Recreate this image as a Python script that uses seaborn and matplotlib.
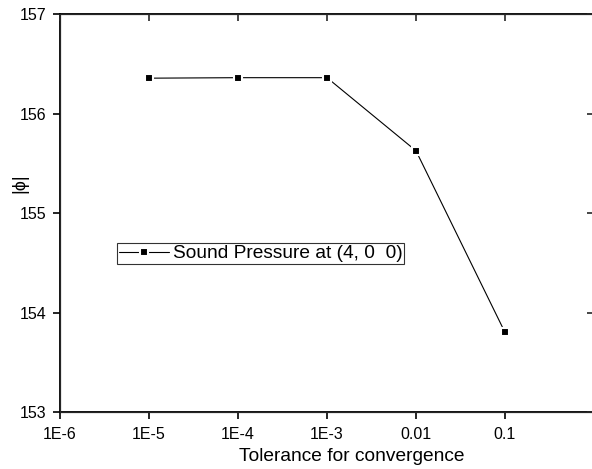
import matplotlib
matplotlib.use("Agg")
import matplotlib.pyplot as plt
import seaborn as sns
import pandas as pd

tolerance = [1e-5, 1e-4, 1e-3, 1e-2, 1e-1]
pressure = [156.355, 156.36, 156.36, 155.625, 153.80]
tick_vals = [1e-6, 1e-5, 1e-4, 1e-3, 1e-2, 1e-1]
tick_labels = ["1E-6", "1E-5", "1E-4", "1E-3", "0.01", "0.1"]
y_ticks = [153, 154, 155, 156, 157]
series_name = "Sound Pressure at (4, 0  0)"

sns.set_style("ticks")
plt.rcParams['font.family'] = ['Liberation Sans', 'DejaVu Sans']
plt.rcParams['text.color'] = 'black'
plt.rcParams['axes.labelcolor'] = 'black'

df = pd.DataFrame({"tol": tolerance, "p": pressure, "s": series_name})

W, H = 592, 469
fig = plt.figure(figsize=(W / 100, H / 100), dpi=100)
left, right, top, bottom = 60, 594, 14, 412
ax = fig.add_axes([left / W, (H - bottom) / H, (right - left) / W, (bottom - top) / H])

sns.lineplot(data=df, x="tol", y="p", hue="s", palette=["black"], marker="s",
             markersize=5.5, linewidth=0.8, ax=ax, markeredgewidth=1.5,
             markeredgecolor="white")
ax.set_xscale("log")
ax.set_xlim(1e-6, 1)
ax.set_ylim(153, 157)
ax.set_xticks(tick_vals)
ax.set_xticklabels(tick_labels)
ax.set_yticks(y_ticks)
ax.minorticks_off()
ax.tick_params(axis="both", direction="out", length=5, width=1.2, labelsize=11.5,
               colors="black")
ax.tick_params(axis="x", pad=6)
ax.tick_params(axis="y", pad=5)
for s in ax.spines.values():
    s.set_linewidth(1.3)
    s.set_color("black")

# inward ticks on top and right
axt = ax.twiny()
axt.set_xscale("log")
axt.set_xlim(ax.get_xlim())
axt.set_xticks(tick_vals)
axt.minorticks_off()
axt.tick_params(axis="x", direction="in", length=5, width=1.2, labeltop=False)
axr = ax.twinx()
axr.set_ylim(ax.get_ylim())
axr.set_yticks(y_ticks)
axr.tick_params(axis="y", direction="in", length=5, width=1.2, labelright=False)

ax.set_xlabel("Tolerance for convergence", fontsize=13.8)
ax.xaxis.set_label_coords((352 - left) / (right - left), -(456 - bottom) / (bottom - top), transform=ax.transAxes)
ax.xaxis.label.set_va("center")
ax.set_ylabel("|ϕ|", fontsize=13)
ax.yaxis.set_label_coords(-(left - 20) / (right - left), (bottom - 183) / (bottom - top), transform=ax.transAxes)
ax.yaxis.label.set_va("center")

leg = ax.legend(loc="upper left", bbox_to_anchor=((117 - left) / (right - left), (bottom - 243) / (bottom - top)),
                frameon=True, fancybox=False, fontsize=13.8, handlelength=2.6,
                borderpad=0.1, handletextpad=0.2, borderaxespad=0)
leg.get_frame().set_edgecolor("black")
leg.get_frame().set_linewidth(0.8)
for t in leg.get_texts():
    t.set_color("black")

fig.savefig("out.png", dpi=100)
